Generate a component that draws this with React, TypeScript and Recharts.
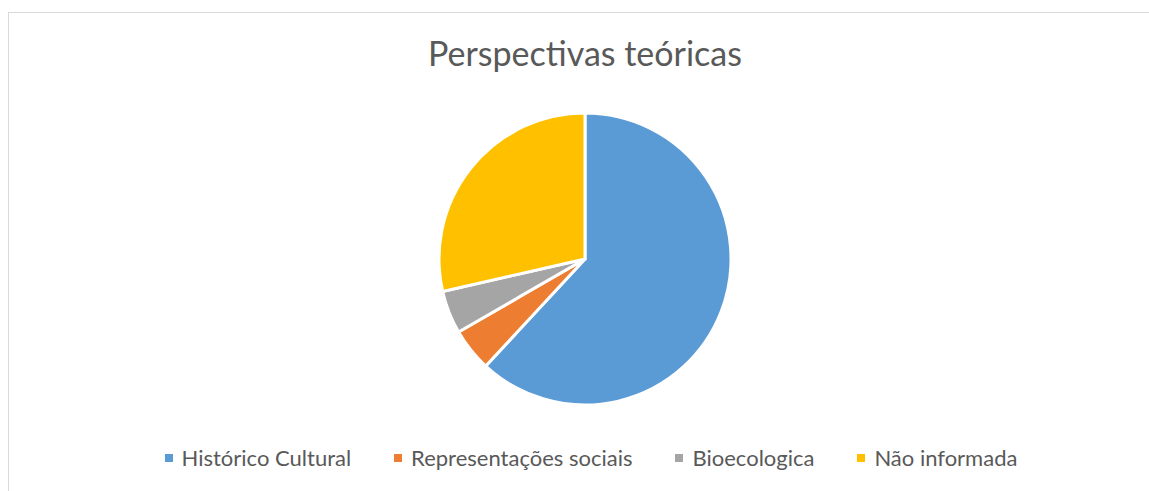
import { PieChart, Pie, Cell, Legend } from 'recharts';

// Perspectivas teóricas — count of studies per theoretical perspective
const categories = ['Histórico Cultural', 'Representações sociais', 'Bioecologica', 'Não informada'];
const counts = [13, 1, 1, 6];
const colors = ['#5B9BD5', '#ED7D31', '#A5A5A5', '#FFC000'];

const data = categories.map((name, i) => ({ name, value: counts[i] }));

const FONT = 'Lato, "Open Sans", sans-serif';
const TEXT = '#595959';

function LegendRow() {
    return (
        <div style={{ display: 'flex', justifyContent: 'center', gap: 43, paddingLeft: 23, fontFamily: FONT, fontSize: 22, color: TEXT, lineHeight: '26px' }}>
            {categories.map((c, i) => (
                <div key={c} style={{ display: 'flex', alignItems: 'center', gap: 9 }}>
                    <span style={{ width: 8, height: 8, background: colors[i], display: 'inline-block' }} />
                    <span>{c}</span>
                </div>
            ))}
        </div>
    );
}

export default function App() {
    return (
        <div style={{ position: 'fixed', left: 8, top: 12, width: 1141, height: 479, border: '1px solid #d9d9d9', borderRight: 'none', borderBottom: 'none', background: '#fff' }}>
            <div style={{ position: 'absolute', top: 19, left: 0, width: 1141, paddingLeft: 11, boxSizing: 'border-box', textAlign: 'center', fontFamily: FONT, fontSize: 34, color: TEXT }}>
                Perspectivas teóricas
            </div>
            <PieChart width={1141} height={478}>
                <Pie
                    data={data}
                    dataKey="value"
                    nameKey="name"
                    cx={571}
                    cy={241}
                    outerRadius={146}
                    startAngle={90}
                    endAngle={-270}
                    stroke="#fff"
                    strokeWidth={3}
                    isAnimationActive={false}
                >
                    {data.map((d, i) => (
                        <Cell key={d.name} fill={colors[i]} />
                    ))}
                </Pie>
                <Legend content={() => <LegendRow />} wrapperStyle={{ top: 432, left: 0, width: 1141 }} />
            </PieChart>
        </div>
    );
}
